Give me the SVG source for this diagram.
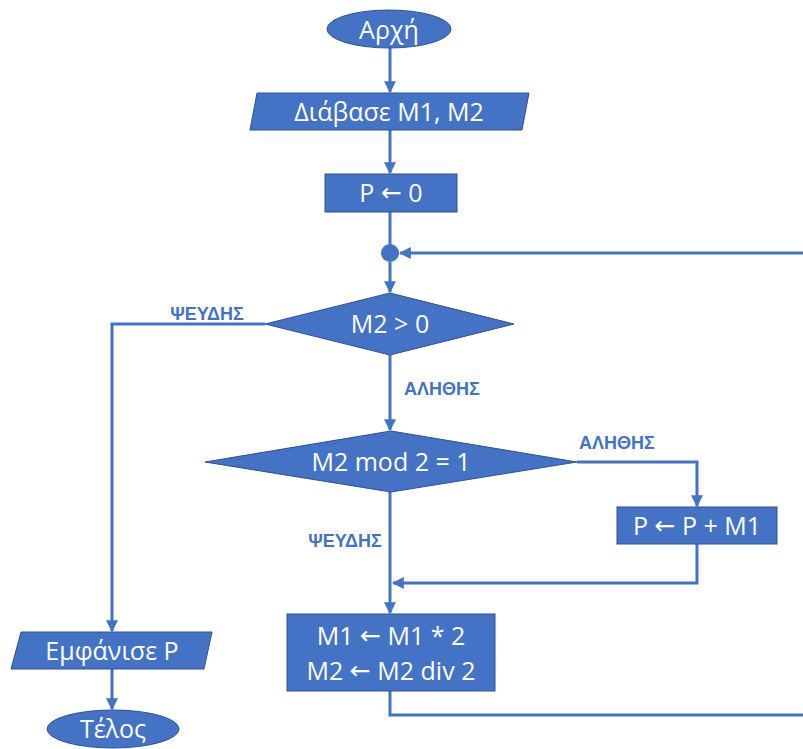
<svg xmlns="http://www.w3.org/2000/svg" width="803" height="749" viewBox="0 0 803 749">
<style>
.shape{fill:#4472C4;stroke:#2F528F;stroke-width:1}
.t{font-family:"Open Sans","Liberation Sans",sans-serif;fill:#fff;font-size:25px;text-anchor:middle;dominant-baseline:central}
.ar{font-family:"DejaVu Sans",sans-serif}
.lbl{font-family:"Liberation Sans",Arial,sans-serif;fill:#4472C4;font-size:18px;font-weight:bold;text-anchor:middle}
.c{fill:none;stroke:#4472C4;stroke-width:3}
</style>
<defs>
<marker id="ah" viewBox="0 0 10 10" refX="9" refY="5" markerWidth="4" markerHeight="4" orient="auto" markerUnits="strokeWidth">
<path d="M0,0 L10,5 L0,10 z" fill="#4472C4"/>
</marker>
</defs>
<g id="connectors">
<path class="c" d="M390,48 V92" marker-end="url(#ah)"/>
<path class="c" d="M390,130 V173" marker-end="url(#ah)"/>
<path class="c" d="M390,212 V245"/>
<path class="c" d="M390,262 V292" marker-end="url(#ah)"/>
<path class="c" d="M803,253 H400" marker-end="url(#ah)"/>
<path class="c" d="M265,324 H112 V631" marker-end="url(#ah)"/>
<path class="c" d="M390,355 V430" marker-end="url(#ah)"/>
<path class="c" d="M577,462 H697 V506" marker-end="url(#ah)"/>
<path class="c" d="M390,492 V613" marker-end="url(#ah)"/>
<path class="c" d="M697,544 V583 H393" marker-end="url(#ah)"/>
<path class="c" d="M390,691 V715 H803"/>
<path class="c" d="M112,669 V709" marker-end="url(#ah)"/>
</g>
<g id="start"><ellipse class="shape" cx="389" cy="29" rx="62" ry="19"/><text class="t" x="389" y="29">Αρχή</text></g>
<g id="read"><polygon class="shape" points="257,93 529,93 522,130 250,130"/><text class="t" x="389" y="111">Διάβασε M1, M2</text></g>
<g id="init"><rect class="shape" x="325" y="174" width="132" height="38"/><text class="t" x="391" y="192">P <tspan class="ar">←</tspan> 0</text></g>
<g id="junction"><circle cx="390" cy="253" r="9" fill="#4472C4"/></g>
<g id="cond1"><polygon class="shape" points="390,293 514,324 390,355 265,324"/><text class="t" x="390" y="323">M2 &gt; 0</text></g>
<g id="cond2"><polygon class="shape" points="391,431 577,462 391,492 205,462"/><text class="t" x="391" y="461">M2 mod 2 = 1</text></g>
<g id="add"><rect class="shape" x="617" y="507" width="160" height="37"/><text class="t" x="697" y="525">P <tspan class="ar">←</tspan> P + M1</text></g>
<g id="update"><rect class="shape" x="287" y="614" width="208" height="77"/><text class="t" x="391" y="635">M1 <tspan class="ar">←</tspan> M1 * 2</text><text class="t" x="391" y="670">M2 <tspan class="ar">←</tspan> M2 div 2</text></g>
<g id="print"><polygon class="shape" points="21,632 212,632 204,669 11,669"/><text class="t" x="112" y="650">Εμφάνισε P</text></g>
<g id="end"><ellipse class="shape" cx="113" cy="729" rx="66" ry="19"/><text class="t" x="113" y="728">Τέλος</text></g>
<g id="labels">
<text class="lbl" x="207" y="320">ΨΕΥΔΗΣ</text>
<text class="lbl" x="442" y="395">ΑΛΗΘΗΣ</text>
<text class="lbl" x="617" y="449">ΑΛΗΘΗΣ</text>
<text class="lbl" x="345" y="547">ΨΕΥΔΗΣ</text>
</g>
</svg>
